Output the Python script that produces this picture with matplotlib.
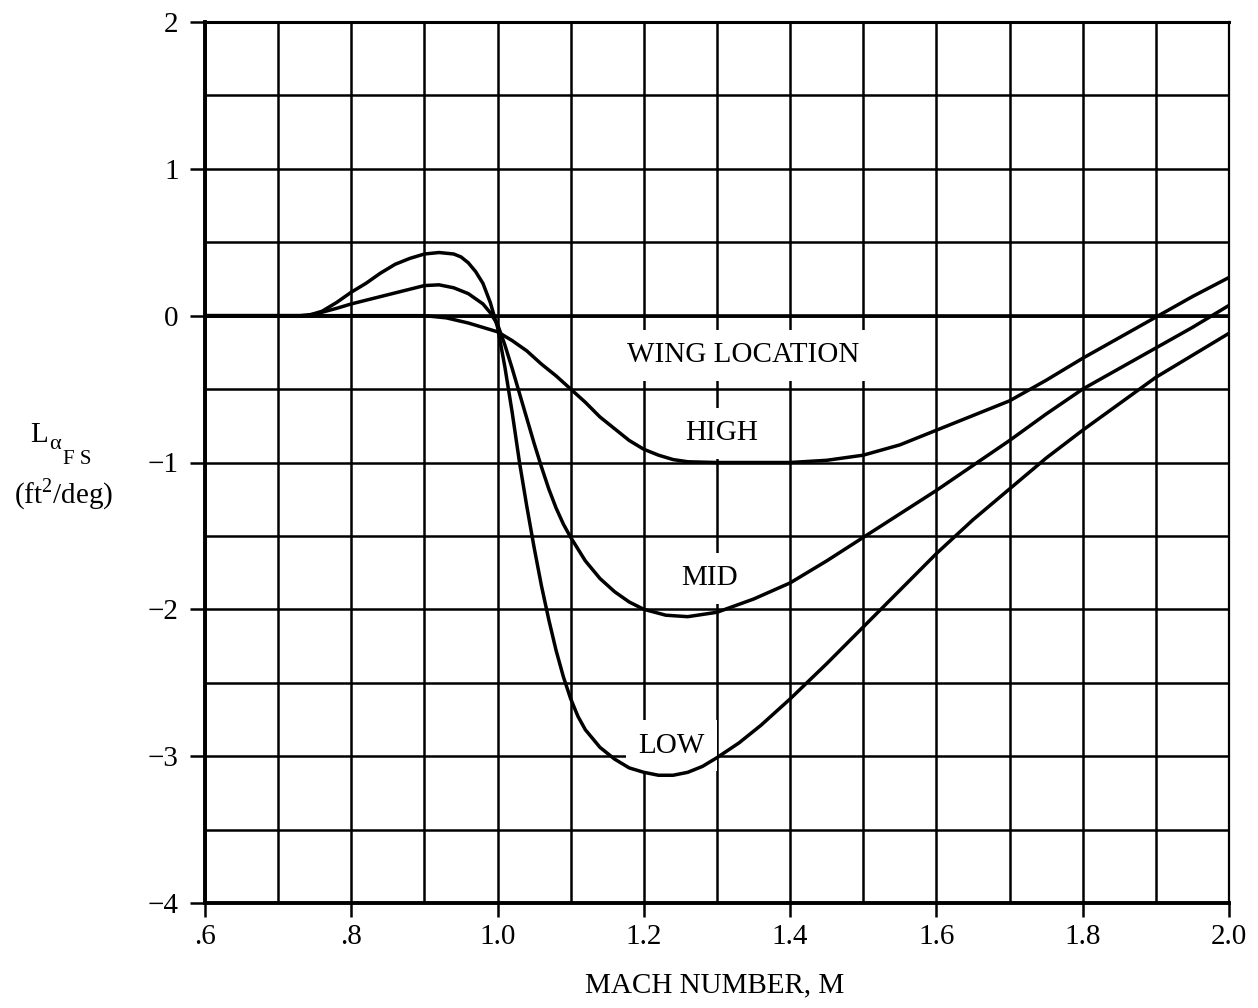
import matplotlib
matplotlib.use("Agg")
import matplotlib.pyplot as plt
from matplotlib.ticker import MultipleLocator, FixedLocator, FixedFormatter

# values
mach_high = [0.6, 0.9, 0.93, 0.96, 0.98, 1.0, 1.02, 1.04, 1.06, 1.08, 1.1, 1.12,
             1.14, 1.16, 1.18, 1.2, 1.22, 1.24, 1.26, 1.3, 1.4, 1.45, 1.5, 1.55,
             1.6, 1.65, 1.7, 1.75, 1.8, 1.85, 1.9, 1.95, 2.0]
lift_high = [0.0, 0.0, -0.015, -0.05, -0.08, -0.11, -0.17, -0.24, -0.33, -0.41,
             -0.5, -0.59, -0.69, -0.77, -0.85, -0.91, -0.95, -0.98, -0.995, -1.0,
             -1.0, -0.985, -0.95, -0.88, -0.78, -0.68, -0.58, -0.44, -0.29, -0.15,
             -0.01, 0.13, 0.26]

mach_mid = [0.6, 0.73, 0.75, 0.78, 0.8, 0.84, 0.88, 0.9, 0.92, 0.94, 0.96, 0.98,
            0.99, 1.0, 1.01, 1.02, 1.03, 1.04, 1.05, 1.06, 1.07, 1.08, 1.09, 1.1,
            1.12, 1.14, 1.16, 1.18, 1.2, 1.23, 1.26, 1.3, 1.35, 1.4, 1.45, 1.5,
            1.55, 1.6, 1.65, 1.7, 1.75, 1.8, 1.85, 1.9, 1.95, 2.0]
lift_mid = [0.0, 0.0, 0.01, 0.05, 0.08, 0.13, 0.18, 0.205, 0.21, 0.19, 0.15, 0.08,
            0.02, -0.06, -0.2, -0.36, -0.53, -0.7, -0.87, -1.03, -1.18, -1.31,
            -1.42, -1.51, -1.67, -1.79, -1.88, -1.95, -2.0, -2.04, -2.05, -2.02,
            -1.93, -1.82, -1.67, -1.51, -1.35, -1.19, -1.02, -0.85, -0.67, -0.5,
            -0.36, -0.22, -0.08, 0.07]

mach_low = [0.6, 0.74, 0.76, 0.78, 0.8, 0.82, 0.84, 0.86, 0.88, 0.9, 0.92, 0.94,
            0.95, 0.96, 0.97, 0.98, 0.99, 1.0, 1.01, 1.02, 1.03, 1.04, 1.05, 1.06,
            1.07, 1.08, 1.09, 1.1, 1.11, 1.12, 1.14, 1.16, 1.18, 1.2, 1.22, 1.24,
            1.26, 1.28, 1.3, 1.33, 1.36, 1.4, 1.45, 1.5, 1.55, 1.6, 1.65, 1.7,
            1.75, 1.8, 1.85, 1.9, 1.95, 2.0]
lift_low = [0.0, 0.0, 0.03, 0.09, 0.16, 0.22, 0.29, 0.35, 0.39, 0.42, 0.43, 0.42,
            0.4, 0.36, 0.3, 0.22, 0.09, -0.08, -0.35, -0.66, -1.0, -1.3, -1.58,
            -1.84, -2.07, -2.28, -2.46, -2.61, -2.73, -2.82, -2.94, -3.02, -3.08,
            -3.11, -3.13, -3.13, -3.11, -3.07, -3.01, -2.91, -2.79, -2.61, -2.37,
            -2.12, -1.87, -1.62, -1.39, -1.18, -0.97, -0.78, -0.6, -0.42, -0.27,
            -0.12]

x_ticks = [0.6, 0.8, 1.0, 1.2, 1.4, 1.6, 1.8, 2.0]
x_tick_labels = ['.6', '.8', '1.0', '1.2', '1.4', '1.6', '1.8', '2.0']
y_ticks = [-4, -3, -2, -1, 0, 1, 2]
y_tick_labels = ['\u22124', '\u22123', '\u22122', '\u22121', '0', '1', '2']

plt.rcParams['font.family'] = ['Liberation Serif', 'DejaVu Serif']
plt.rcParams['mathtext.fontset'] = 'custom'
plt.rcParams['mathtext.rm'] = 'Liberation Serif'

W, H = 1258, 1008
fig = plt.figure(figsize=(W / 100, H / 100), dpi=100)
ax = fig.add_axes([205 / W, 1 - 903 / H, (1229 - 205) / W, (903 - 22) / H])

ax.set_xlim(0.6, 2.0)
ax.set_ylim(-4, 2)

ax.xaxis.set_major_locator(FixedLocator(x_ticks))
ax.xaxis.set_major_formatter(FixedFormatter(x_tick_labels))
ax.xaxis.set_minor_locator(MultipleLocator(0.1))
ax.yaxis.set_major_locator(FixedLocator(y_ticks))
ax.yaxis.set_major_formatter(FixedFormatter(y_tick_labels))
ax.yaxis.set_minor_locator(MultipleLocator(0.5))

ax.grid(True, which='both', color='black', linewidth=1.8, zorder=1)
ax.set_axisbelow(True)
ax.tick_params(which='major', direction='out', length=10, width=1.8,
               labelsize=21, color='black')
ax.tick_params(axis='x', which='major', pad=5)
ax.tick_params(axis='y', which='major', pad=8, length=11)
ax.tick_params(which='minor', length=0)

for side in ['left', 'bottom']:
    ax.spines[side].set_linewidth(2.8)
ax.spines['top'].set_linewidth(2.2)
ax.spines['right'].set_linewidth(1.6)

ax.axhline(0, color='black', linewidth=2.6, zorder=2)

for xs, ys in [(mach_high, lift_high), (mach_mid, lift_mid), (mach_low, lift_low)]:
    ax.plot(xs, ys, color='black', linewidth=2.5, zorder=4,
            solid_joinstyle='round', solid_capstyle='round')

box = dict(facecolor='white', edgecolor='none', pad=9)
ax.text(1.336, -0.27, 'WING LOCATION', fontsize=21, ha='center', va='center',
        bbox=box, zorder=3)
ax.text(1.307, -0.80, 'HIGH', fontsize=21, ha='center', va='center',
        bbox=box, zorder=3)
ax.text(1.29, -1.79, 'MID', fontsize=21, ha='center', va='center',
        bbox=box, zorder=3)
ax.text(1.238, -2.93, 'LOW', fontsize=21, ha='center', va='center',
        bbox=box, zorder=3)

# y axis label: L with alpha / F S subscripts
fig.text(30 / W, 1 - 442 / H, 'L', fontsize=21, va='baseline')
fig.text(49 / W, 1 - 449 / H, '\u03b1', fontsize=16, va='baseline')
fig.text(63 / W, 1 - 464 / H, 'F S', fontsize=15, va='baseline')
fig.text(64 / W, 1 - 503 / H, r'(ft$^{2}$/deg)', fontsize=21, ha='center',
         va='baseline')

fig.text(715 / W, 1 - 985 / H, 'MACH NUMBER, M', fontsize=21, ha='center',
         va='center')

fig.savefig('out.png', dpi=100, facecolor='white')
